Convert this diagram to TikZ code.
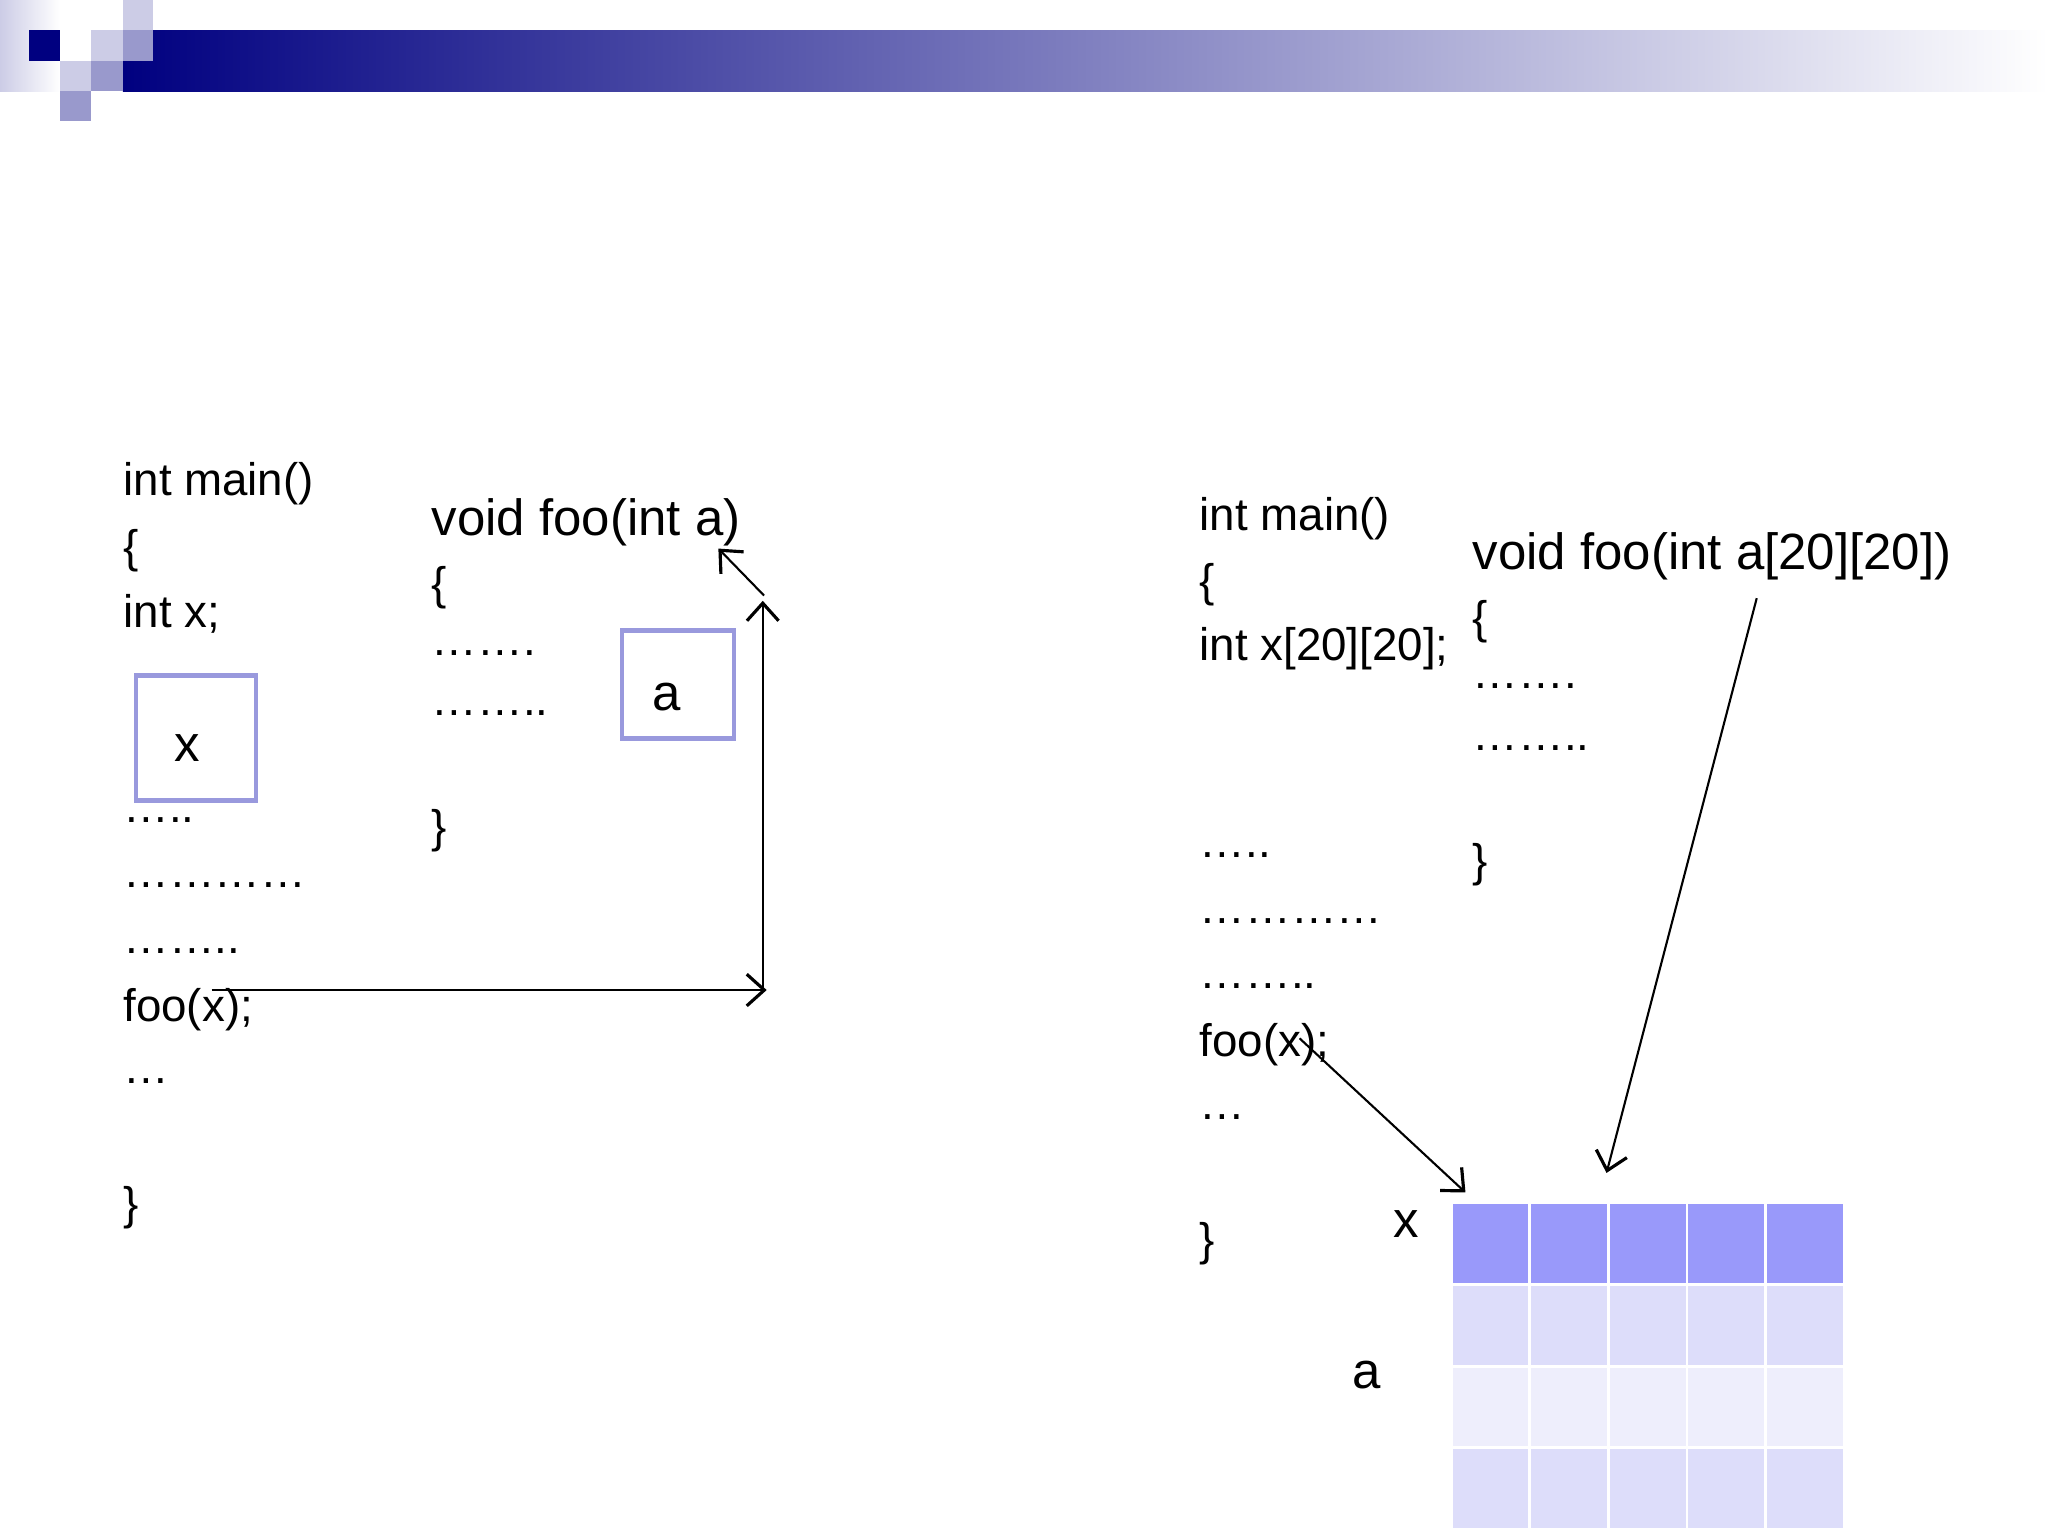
\documentclass[tikz,border=0pt]{standalone}
\usepackage{fontspec}
\setmainfont{Liberation Sans}
\usetikzlibrary{arrows.meta}
\definecolor{navy}{HTML}{000080}
\definecolor{sqL}{HTML}{CCCCE6}
\definecolor{sqM}{HTML}{9999CC}
\definecolor{rowA}{HTML}{9999FA}
\definecolor{rowB}{HTML}{DDDDFA}
\definecolor{rowC}{HTML}{EEEEFC}
\definecolor{boxc}{HTML}{9999DD}
\tikzset{
  code/.style={anchor=west,inner sep=0pt,font=\fontsize{13}{15}\selectfont},
  big/.style={anchor=west,inner sep=0pt,font=\fontsize{14.5}{17}\selectfont},
  vbox/.style={draw=boxc,line width=1.3pt},
  arr/.style={line width=0.6pt,-{Straight Barb[length=5pt,width=9pt,line width=0.9pt]}},
  cell/.style={draw=white,line width=0.8pt}
}
\begin{document}
\begin{tikzpicture}[x=0.01306cm,y=-0.01306cm]
\useasboundingbox (0,0) rectangle (1568,1176);
% header
\shade[left color=sqL,right color=white] (0,0) rectangle (46,70);
\shade[left color=navy,right color=white] (94,23) rectangle (1568,70);
\fill[navy] (22,23) rectangle (46,47);
\fill[sqL] (70,23) rectangle (94,47);
\fill[sqM] (94,23) rectangle (117,47);
\fill[sqL] (94,0) rectangle (117,23);
\fill[sqL] (46,47) rectangle (70,70);
\fill[sqM] (70,47) rectangle (94,70);
\fill[sqM] (46,70) rectangle (70,93);
% left code
\node[code] (l1) at (94,370) {int main()};
\node[code] (l2) at (94,422) {\{};
\node[code] (l3) at (94,470) {int x;};
\node[vbox,minimum width=92pt*0.371,minimum height=96pt*0.371] (bx) at (150,565) {};
\node[big] (xl) at (133,573) {x};
\node[code] (l4) at (94,628) {…..};
\node[code] (l5) at (94,678) {…………};
\node[code] (l6) at (94,728) {……..};
\node[code] (l7) at (94,773) {foo(x);};
\node[code] (l8) at (94,828) {…};
\node[code] (l9) at (94,925) {\}};
% middle
\node[big] (m1) at (330,400) {void foo(int a)};
\node[code] (m2) at (330,450) {\{};
\node[code] (m3) at (330,500) {…….};
\node[code] (m4) at (330,546) {……..};
\node[code] (m5) at (330,636) {\}};
\node[vbox,minimum width=86pt*0.371,minimum height=83pt*0.371] (ba) at (519,524) {};
\node[big] (al) at (499,534) {a};
\coordinate (s1) at (162,758);
\coordinate (c1) at (587,758);
\coordinate (c2) at (584,758);
\coordinate (c3) at (584,460);
\coordinate (c4) at (585,456);
\coordinate (c5) at (550,420);
\draw[arr] (s1) -- (c1);
\draw[arr] (c2) -- (c3);
\draw[arr] (c4) -- (c5);
% right code
\node[code] (r1) at (918,397) {int main()};
\node[code] (r2) at (918,448) {\{};
\node[code] (r3) at (918,497) {int x[20][20];};
\node[code] (r4) at (918,655) {…..};
\node[code] (r5) at (918,705) {…………};
\node[code] (r6) at (918,755) {……..};
\node[code] (r7) at (918,800) {foo(x);};
\node[code] (r8) at (918,855) {…};
\node[code] (r9) at (918,952) {\}};
\node[big] (f1) at (1127,426) {void foo(int a[20][20])};
\node[code] (f2) at (1127,476) {\{};
\node[code] (f3) at (1127,525) {…….};
\node[code] (f4) at (1127,573) {……..};
\node[code] (f5) at (1127,662) {\}};
\node[big] (tx) at (1066,937) {x};
\node[big] (ta) at (1035,1053) {a};
% table
\foreach \r/\c in {0/rowA,1/rowB,2/rowC,3/rowB}{
  \foreach \k in {0,...,4}{
    \fill[\c,cell] ({1111+\k*60.2},{921+\r*62.5}) rectangle ++(60.2,62.5);
  }
}
\coordinate (t0) at (1122,913);
\coordinate (t1) at (1230,898);
\coordinate (p1) at (995,795);
\coordinate (p2) at (1345,458);
\draw[arr] (p1) -- (t0);
\draw[arr] (p2) -- (t1);
\end{tikzpicture}
\end{document}
